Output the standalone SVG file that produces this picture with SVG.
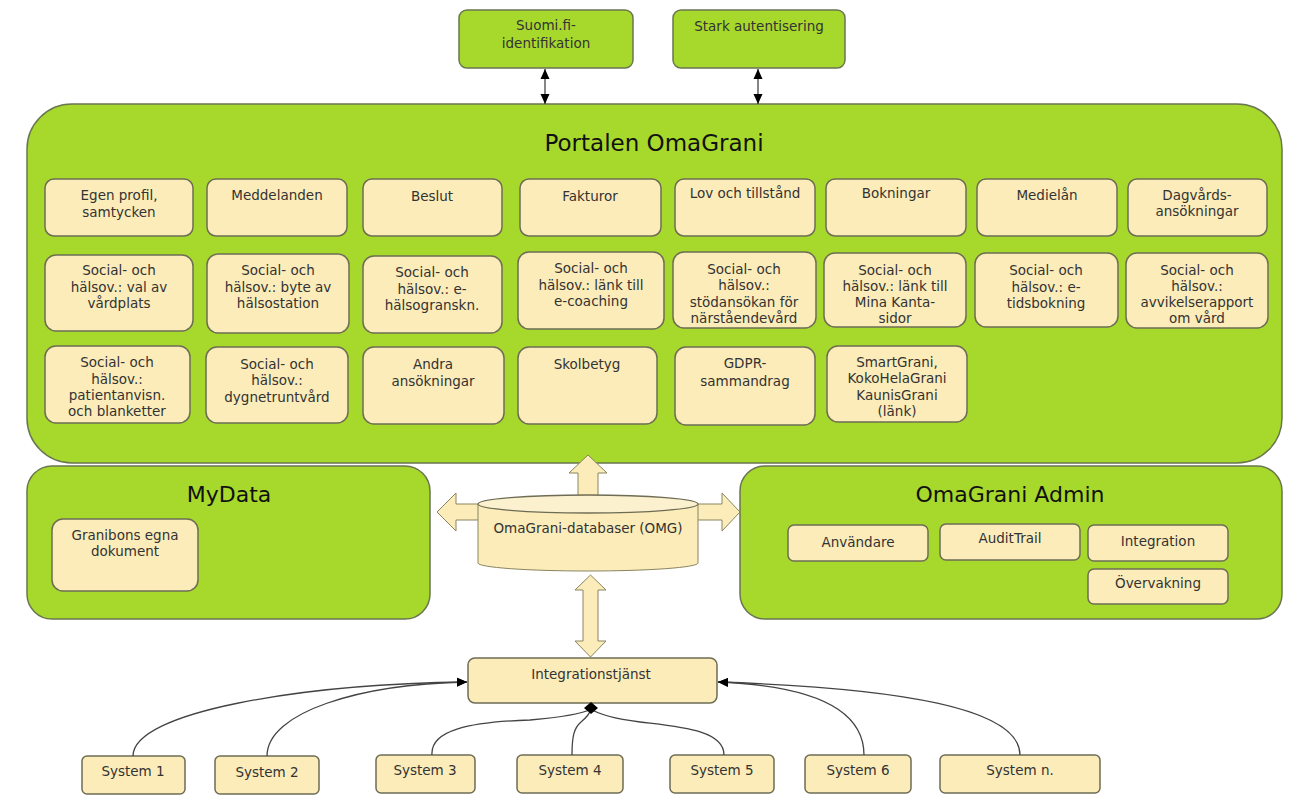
<svg xmlns="http://www.w3.org/2000/svg" width="1296" height="799" viewBox="0 0 1296 799">
<style>
.g{fill:#a7d82c;stroke:#6a7650;stroke-width:1.5}
.b{fill:#fbecb9;stroke:#6e6c55;stroke-width:1.5}
.t{font-family:"DejaVu Sans",Verdana,sans-serif;font-size:13.5px;fill:#333;text-anchor:middle}
.h{font-family:"DejaVu Sans",Verdana,sans-serif;fill:#111;text-anchor:middle}
.c{fill:none;stroke:#444;stroke-width:1.3}
.blk{fill:#fbecb9;stroke:#8a8560;stroke-width:1}
</style>
<defs>
<marker id="ah" markerUnits="userSpaceOnUse" markerWidth="10" markerHeight="10" refX="10" refY="5" orient="auto-start-reverse"><path d="M0,0.5 L10,5 L0,9.5 z" fill="#000"/></marker>
</defs>

<g id="suomi"><rect class="g" x="459" y="10" width="174" height="58" rx="8"/><text class="t" x="546" y="30">Suomi.fi-<tspan x="546" dy="18">identifikation</tspan></text></g>
<g id="stark"><rect class="g" x="673" y="10" width="172" height="58" rx="8"/><text class="t" x="759" y="31">Stark autentisering</text></g>

<g id="portal">
<rect class="g" x="27" y="104" width="1255" height="359" rx="45"/>
<text class="h" x="654" y="151" font-size="23">Portalen OmaGrani</text>
</g>

<g id="r1c1"><rect class="b" x="45" y="179" width="148" height="57" rx="9"/><text class="t" x="119" y="200">Egen profil,<tspan x="119" dy="17">samtycken</tspan></text></g>
<g id="r1c2"><rect class="b" x="207" y="179" width="140" height="57" rx="9"/><text class="t" x="277" y="200">Meddelanden</text></g>
<g id="r1c3"><rect class="b" x="363" y="179" width="139" height="57" rx="9"/><text class="t" x="432" y="201">Beslut</text></g>
<g id="r1c4"><rect class="b" x="520" y="179" width="141" height="57" rx="9"/><text class="t" x="590" y="201">Fakturor</text></g>
<g id="r1c5"><rect class="b" x="675" y="179" width="140" height="57" rx="9"/><text class="t" x="745" y="198">Lov och tillstånd</text></g>
<g id="r1c6"><rect class="b" x="826" y="179" width="140" height="57" rx="9"/><text class="t" x="896" y="198">Bokningar</text></g>
<g id="r1c7"><rect class="b" x="977" y="179" width="140" height="57" rx="9"/><text class="t" x="1047" y="200">Medielån</text></g>
<g id="r1c8"><rect class="b" x="1128" y="179" width="139" height="57" rx="9"/><text class="t" x="1197" y="200">Dagvårds-<tspan x="1197" dy="16">ansökningar</tspan></text></g>

<g id="r2c1"><rect class="b" x="45" y="255" width="148" height="76" rx="11"/><text class="t" x="119" y="275">Social- och<tspan x="119" dy="16.5">hälsov.: val av</tspan><tspan x="119" dy="16.5">vårdplats</tspan></text></g>
<g id="r2c2"><rect class="b" x="207" y="254" width="142" height="79" rx="11"/><text class="t" x="278" y="275">Social- och<tspan x="278" dy="16.5">hälsov.: byte av</tspan><tspan x="278" dy="16.5">hälsostation</tspan></text></g>
<g id="r2c3"><rect class="b" x="363" y="256" width="139" height="77" rx="11"/><text class="t" x="432" y="277">Social- och<tspan x="432" dy="16.5">hälsov.: e-</tspan><tspan x="432" dy="16.5">hälsogranskn.</tspan></text></g>
<g id="r2c4"><rect class="b" x="518" y="252" width="146" height="77" rx="11"/><text class="t" x="591" y="273">Social- och<tspan x="591" dy="16.5">hälsov.: länk till</tspan><tspan x="591" dy="16.5">e-coaching</tspan></text></g>
<g id="r2c5"><rect class="b" x="673" y="252" width="143" height="76" rx="11"/><text class="t" x="744" y="274">Social- och<tspan x="744" dy="16.3">hälsov.:</tspan><tspan x="744" dy="16.3">stödansökan för</tspan><tspan x="744" dy="16.3">närståendevård</tspan></text></g>
<g id="r2c6"><rect class="b" x="824" y="253" width="142" height="74" rx="11"/><text class="t" x="895" y="275">Social- och<tspan x="895" dy="16">hälsov.: länk till</tspan><tspan x="895" dy="16">Mina Kanta-</tspan><tspan x="895" dy="16">sidor</tspan></text></g>
<g id="r2c7"><rect class="b" x="975" y="253" width="143" height="74" rx="11"/><text class="t" x="1046" y="275">Social- och<tspan x="1046" dy="16.5">hälsov.: e-</tspan><tspan x="1046" dy="16.5">tidsbokning</tspan></text></g>
<g id="r2c8"><rect class="b" x="1126" y="253" width="142" height="75" rx="11"/><text class="t" x="1197" y="275">Social- och<tspan x="1197" dy="16">hälsov.:</tspan><tspan x="1197" dy="16">avvikelserapport</tspan><tspan x="1197" dy="16">om vård</tspan></text></g>

<g id="r3c1"><rect class="b" x="45" y="346" width="145" height="77" rx="11"/><text class="t" x="117" y="367">Social- och<tspan x="117" dy="16.5">hälsov.:</tspan><tspan x="117" dy="16.5">patientanvisn.</tspan><tspan x="117" dy="16">och blanketter</tspan></text></g>
<g id="r3c2"><rect class="b" x="206" y="347" width="142" height="76" rx="11"/><text class="t" x="277" y="369">Social- och<tspan x="277" dy="16.3">hälsov.:</tspan><tspan x="277" dy="16.3">dygnetruntvård</tspan></text></g>
<g id="r3c3"><rect class="b" x="363" y="347" width="141" height="77" rx="11"/><text class="t" x="433" y="369">Andra<tspan x="433" dy="17">ansökningar</tspan></text></g>
<g id="r3c4"><rect class="b" x="518" y="347" width="139" height="77" rx="11"/><text class="t" x="587" y="369">Skolbetyg</text></g>
<g id="r3c5"><rect class="b" x="675" y="347" width="140" height="78" rx="11"/><text class="t" x="745" y="368">GDPR-<tspan x="745" dy="18">sammandrag</tspan></text></g>
<g id="r3c6"><rect class="b" x="827" y="346" width="140" height="76" rx="11"/><text class="t" x="897" y="367">SmartGrani,<tspan x="897" dy="16.3">KokoHelaGrani</tspan><tspan x="897" dy="16.3">KaunisGrani</tspan><tspan x="897" dy="16">(länk)</tspan></text></g>

<g id="mydata">
<rect class="g" x="27" y="466" width="403" height="153" rx="25"/>
<text class="h" x="229" y="502" font-size="22">MyData</text>
<g id="granibons"><rect class="b" x="52" y="519" width="146" height="72" rx="11"/><text class="t" x="125" y="540">Granibons egna<tspan x="125" dy="16">dokument</tspan></text></g>
</g>

<g id="admin">
<rect class="g" x="740" y="466" width="542" height="153" rx="25"/>
<text class="h" x="1010" y="502" font-size="22">OmaGrani Admin</text>
<g id="anvandare"><rect class="b" x="788" y="525" width="140" height="36" rx="6"/><text class="t" x="858" y="547">Användare</text></g>
<g id="audittrail"><rect class="b" x="940" y="524" width="140" height="36" rx="6"/><text class="t" x="1010" y="543">AuditTrail</text></g>
<g id="integration"><rect class="b" x="1088" y="525" width="140" height="36" rx="6"/><text class="t" x="1158" y="546">Integration</text></g>
<g id="overvakning"><rect class="b" x="1088" y="569" width="140" height="35" rx="6"/><text class="t" x="1158" y="588">Övervakning</text></g>
</g>

<g id="block-arrows">
<polygon class="blk" points="578,496 578,473 569,473 588,455 607,473 598,473 598,496"/>
<polygon class="blk" points="479,504 456,504 456,493 437,512 456,531 456,520 479,520"/>
<polygon class="blk" points="697,504 722,504 722,493 740,512 722,531 722,520 697,520"/>
<polygon class="blk" points="590.5,575 606,590 598,590 598,641 606,641 590.5,657 575,641 583,641 583,590 575,590"/>
</g>

<g id="database">
<path class="blk" d="M478,504 L478,563 A110,8 0 0 0 698,563 L698,504 Z" stroke="#6e6c55" stroke-width="1.3"/>
<ellipse cx="588" cy="504" rx="110" ry="9" fill="#fcf1cf" stroke="#6e6c55" stroke-width="1.3"/>
<text class="t" x="588" y="533">OmaGrani-databaser (OMG)</text>
</g>

<g id="integrationstjanst"><rect class="b" x="468" y="658" width="249" height="45" rx="7"/><text class="t" x="591" y="679">Integrationstjänst</text></g>

<g id="sys1"><rect class="b" x="82" y="756" width="103" height="38" rx="5"/><text class="t" x="133" y="776">System 1</text></g>
<g id="sys2"><rect class="b" x="215" y="756" width="104" height="38" rx="5"/><text class="t" x="267" y="777">System 2</text></g>
<g id="sys3"><rect class="b" x="376" y="755" width="99" height="38" rx="5"/><text class="t" x="425" y="775">System 3</text></g>
<g id="sys4"><rect class="b" x="517" y="755" width="106" height="38" rx="5"/><text class="t" x="570" y="775">System 4</text></g>
<g id="sys5"><rect class="b" x="670" y="755" width="104" height="38" rx="5"/><text class="t" x="722" y="775">System 5</text></g>
<g id="sys6"><rect class="b" x="805" y="755" width="106" height="38" rx="5"/><text class="t" x="858" y="775">System 6</text></g>
<g id="sysn"><rect class="b" x="940" y="755" width="160" height="38" rx="5"/><text class="t" x="1020" y="775">System n.</text></g>

<g id="connectors">
<line class="c" x1="545" y1="69" x2="545" y2="104" marker-start="url(#ah)" marker-end="url(#ah)"/>
<line class="c" x1="758" y1="69" x2="758" y2="104" marker-start="url(#ah)" marker-end="url(#ah)"/>
<path class="c" d="M133,756 C133,712 300,684 467,682" marker-end="url(#ah)"/>
<path class="c" d="M267,756 C267,712 360,684 467,682" marker-end="url(#ah)"/>
<path class="c" d="M432,755 C430,730 470,722 530,720 C565,717 582,714 591,709"/>
<path class="c" d="M572,755 C572,736 574,728 581,722 C587,717 590,713 591,709"/>
<path class="c" d="M724,755 C724,730 680,727 640,722 C610,718 598,714 591,709"/>
<path class="c" d="M864,755 C864,712 820,686 718,682" marker-end="url(#ah)"/>
<path class="c" d="M1020,755 C1020,708 900,688 718,682" marker-end="url(#ah)"/>
<polygon points="591,702 598,708 591,714 584,708" fill="#000"/>
</g>
</svg>
